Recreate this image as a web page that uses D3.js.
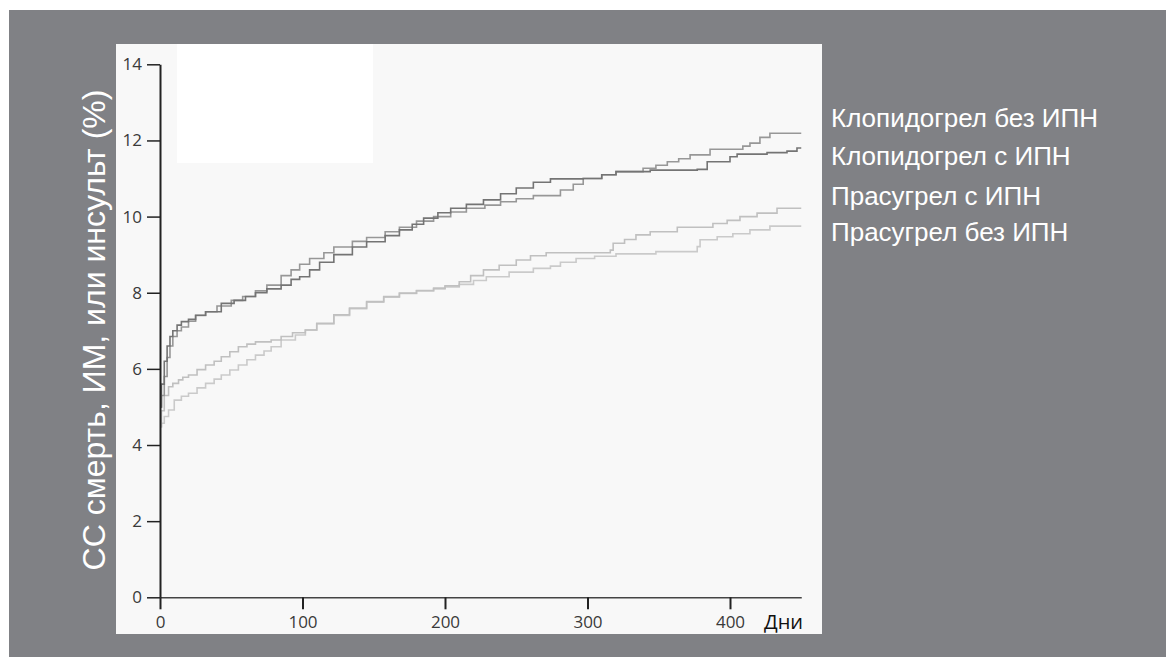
<!DOCTYPE html>
<html>
<head>
<meta charset="utf-8">
<script src="https://cdn.jsdelivr.net/npm/d3@7"></script>
<style>
  html, body { margin: 0; padding: 0; background: #ffffff; }
  svg { display: block; }
</style>
</head>
<body>
<svg id="chart" width="1166" height="657"></svg>
<script>
// Cumulative event rate (%) by day for each treatment group
const clopiNoPpiDays = [0,1,3,5,7,9,12,15,20,25,32,40,50,58,67,75,85,92,98,105,115,122,135,145,158,168,180,192,204,215,228,239,250,262,281,290,297,310,320,339,348,356,364,372,386,409,414,421,428,450];
const clopiNoPpiVals = [5.0,5.3,5.8,6.3,6.6,6.85,7.0,7.1,7.25,7.4,7.5,7.65,7.8,7.9,8.05,8.2,8.45,8.6,8.75,8.9,9.05,9.2,9.35,9.45,9.6,9.72,9.88,10.0,10.12,10.22,10.3,10.39,10.47,10.55,10.7,10.85,11.0,11.1,11.18,11.27,11.35,11.44,11.52,11.62,11.77,11.85,11.93,12.08,12.19,12.19];

const clopiPpiDays = [0,1,3,5,7,9,12,15,20,25,32,43,52,60,67,75,85,92,98,105,112,122,135,145,158,168,177,185,195,204,215,227,239,250,262,274,297,310,320,344,377,384,400,405,426,440,447,450];
const clopiPpiVals = [5.0,5.6,6.2,6.6,6.85,7.0,7.15,7.24,7.3,7.41,7.5,7.72,7.8,7.9,8.0,8.1,8.2,8.35,8.42,8.6,8.8,9.0,9.2,9.34,9.5,9.65,9.8,9.96,10.1,10.22,10.32,10.44,10.6,10.75,10.9,10.99,11.0,11.1,11.18,11.22,11.24,11.44,11.57,11.64,11.68,11.72,11.8,11.8];

const prasPpiDays = [0,1,3,6,9,13,16,20,26,32,38,43,49,55,61,67,78,85,93,102,110,122,133,145,157,168,180,192,200,210,218,227,238,250,260,271,316,318,326,334,344,363,388,398,407,419,433,450];
const prasPpiVals = [4.48,4.9,5.3,5.53,5.62,5.71,5.78,5.84,5.98,6.1,6.2,6.32,6.45,6.58,6.65,6.71,6.76,6.85,6.95,7.02,7.2,7.42,7.6,7.77,7.9,7.99,8.06,8.12,8.18,8.29,8.45,8.6,8.72,8.86,8.97,9.05,9.12,9.3,9.4,9.52,9.6,9.72,9.82,9.9,10.0,10.09,10.22,10.22];

const prasNoPpiDays = [0,1,3,6,10,15,20,26,32,38,43,49,55,61,67,73,78,85,95,102,110,122,133,145,157,168,180,192,200,210,220,229,245,262,274,281,292,305,320,348,377,379,391,402,414,428,450];
const prasNoPpiVals = [4.48,4.57,4.75,4.92,5.18,5.28,5.36,5.5,5.62,5.73,5.84,5.97,6.1,6.24,6.36,6.47,6.58,6.76,6.89,7.02,7.18,7.4,7.58,7.75,7.88,7.98,8.05,8.1,8.15,8.22,8.32,8.42,8.54,8.64,8.7,8.8,8.9,8.96,9.02,9.08,9.21,9.39,9.47,9.55,9.65,9.75,9.75];

const seriesNames = ["Клопидогрел без ИПН", "Клопидогрел с ИПН", "Прасугрел с ИПН", "Прасугрел без ИПН"];
const yTicks = [0, 2, 4, 6, 8, 10, 12, 14];
const xTicks = [0, 100, 200, 300, 400];
const yTitle = "СС смерть, ИМ, или инсульт (%)";
const xTitle = "Дни";

const series = [
  { name: seriesNames[0], days: clopiNoPpiDays, vals: clopiNoPpiVals, color: "#979797" },
  { name: seriesNames[1], days: clopiPpiDays, vals: clopiPpiVals, color: "#747474" },
  { name: seriesNames[2], days: prasPpiDays, vals: prasPpiVals, color: "#c0c0c0" },
  { name: seriesNames[3], days: prasNoPpiDays, vals: prasNoPpiVals, color: "#cacaca" }
];

const svg = d3.select("#chart");

// slide background and plot panel
svg.append("rect").attr("x", 9).attr("y", 10).attr("width", 1157).attr("height", 647).attr("fill", "#808185");
svg.append("rect").attr("x", 116).attr("y", 44).attr("width", 706).attr("height", 590).attr("fill", "#f8f8f8");
svg.append("rect").attr("x", 177).attr("y", 44).attr("width", 196).attr("height", 119).attr("fill", "#ffffff");

const x = d3.scaleLinear().domain([0, 450]).range([160, 801.25]);
const y = d3.scaleLinear().domain([0, 14]).range([597.3, 64.3]);

// step curves
const line = d3.line()
  .x(d => x(d[0]))
  .y(d => y(d[1]))
  .curve(d3.curveStepAfter);

// draw lighter groups first so darker lines stay on top
[3, 2, 0, 1].forEach(i => {
  const s = series[i];
  const pts = s.days.map((d, k) => [d, s.vals[k]]);
  svg.append("path")
    .datum(pts)
    .attr("d", line)
    .attr("fill", "none")
    .attr("stroke", s.color)
    .attr("stroke-width", 1.6);
});

// x axis
const xAxis = svg.append("g")
  .attr("transform", "translate(0,597.3)")
  .call(d3.axisBottom(x).tickValues(xTicks).tickSize(12).tickSizeOuter(0).tickPadding(7));
xAxis.select(".domain").attr("stroke", "#444").attr("stroke-width", 1.5);
xAxis.selectAll(".tick line").attr("stroke", "#222").attr("stroke-width", 2);
xAxis.selectAll(".tick text")
  .attr("font-family", "'Open Sans', sans-serif")
  .attr("font-size", 17)
  .attr("fill", "#3a3a3a");

// y axis
const yAxis = svg.append("g")
  .attr("transform", "translate(160,0)")
  .call(d3.axisLeft(y).tickValues(yTicks).tickSize(13).tickSizeOuter(0).tickPadding(5));
yAxis.select(".domain").attr("stroke", "#222").attr("stroke-width", 2);
yAxis.selectAll(".tick line").attr("stroke", "#222").attr("stroke-width", 1.5);
yAxis.selectAll(".tick text")
  .attr("font-family", "'Open Sans', sans-serif")
  .attr("font-size", 17)
  .attr("fill", "#3a3a3a");

// x axis unit label
svg.append("text")
  .attr("x", 764).attr("y", 629)
  .attr("font-family", "'Open Sans', sans-serif")
  .attr("font-size", 20)
  .attr("fill", "#111")
  .text(xTitle);

// y axis title
svg.append("text")
  .attr("transform", "translate(105,330) rotate(-90)")
  .attr("text-anchor", "middle")
  .attr("font-family", "'Liberation Sans', Arial, sans-serif")
  .attr("font-size", 32)
  .attr("fill", "#ffffff")
  .text(yTitle);

// series labels at the right
const labelY = [127, 165, 205, 241];
series.forEach((s, i) => {
  svg.append("text")
    .attr("x", 831).attr("y", labelY[i])
    .attr("font-family", "'Liberation Sans', Arial, sans-serif")
    .attr("font-size", 26)
    .attr("fill", "#ffffff")
    .text(s.name);
});
</script>
</body>
</html>
